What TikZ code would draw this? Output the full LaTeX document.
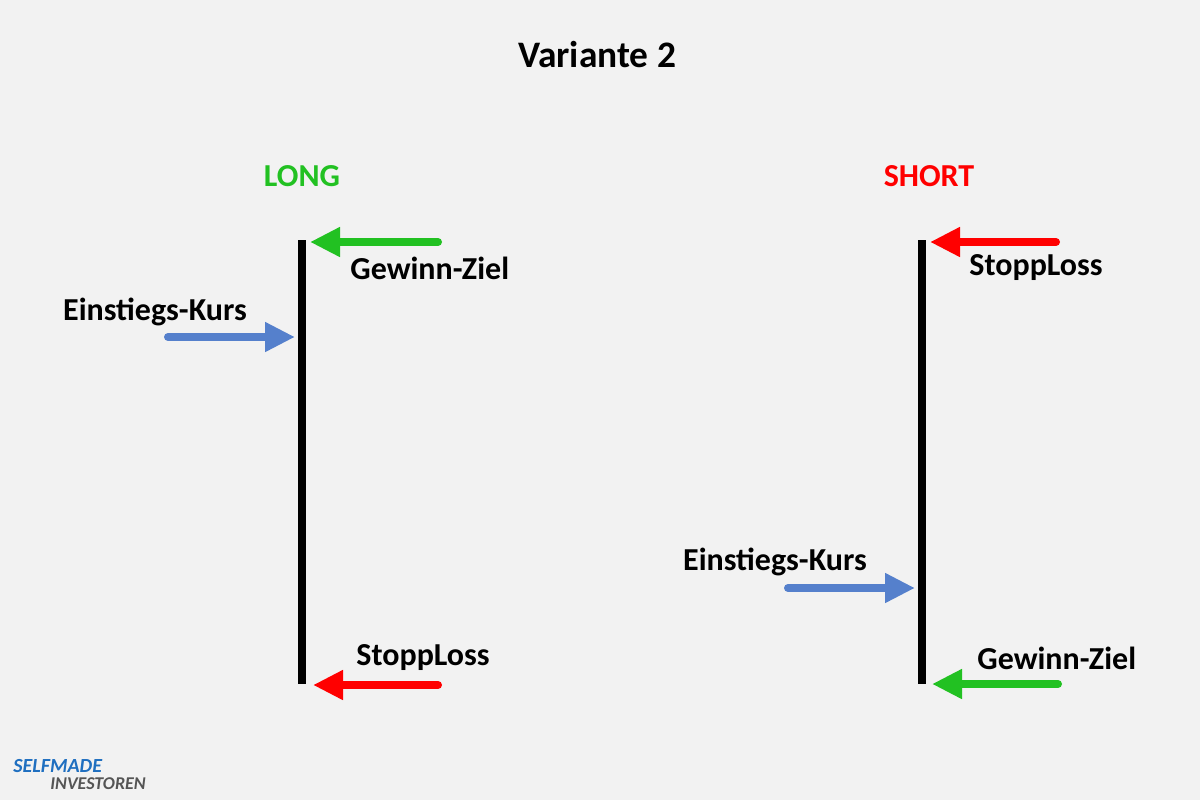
\documentclass[tikz,border=0pt]{standalone}
\usepackage{fontspec}
\setmainfont{Carlito}
\usetikzlibrary{arrows.meta}
\definecolor{bg}{HTML}{F2F2F2}
\definecolor{cgreen}{HTML}{22C122}
\definecolor{cred}{HTML}{FF0000}
\definecolor{cblue}{HTML}{5580CC}
\definecolor{logoblue}{HTML}{1F6FC0}
\definecolor{logogray}{HTML}{555555}
\tikzset{
  arr/.style={line width=4pt, line cap=round, -{Triangle[length=15pt,width=14pt,line cap=butt]}},
  bar/.style={line width=4pt},
  lab/.style={font=\bfseries\fontsize{16}{18}\selectfont, inner sep=0pt},
}
\begin{document}
\begin{tikzpicture}[x=0.5pt,y=-0.5pt]
\fill[bg] (0,0) rectangle (1200,800);
\useasboundingbox (0,0) rectangle (1200,800);
\node[font=\bfseries\fontsize{18.7}{20}\selectfont] (title) at (597,55) {Variante 2};
\node[font=\bfseries\fontsize{16}{18}\selectfont, text=cgreen] (long) at (302,176) {LONG};
\node[font=\bfseries\fontsize{16}{18}\selectfont, text=cred] (short) at (929,176) {SHORT};
% LONG
\coordinate (lt) at (302,240); \coordinate (lb) at (302,684);
\draw[bar] (lt) -- (lb);
\coordinate (g1s) at (438,242); \coordinate (g1e) at (310,242);
\draw[arr, cgreen] (g1s) -- (g1e);
\coordinate (b1s) at (168,337); \coordinate (b1e) at (295,337);
\draw[arr, cblue] (b1s) -- (b1e);
\coordinate (r1s) at (438,685); \coordinate (r1e) at (313,685);
\draw[arr, cred] (r1s) -- (r1e);
\node[lab, anchor=west] (gz1) at (350,268) {Gewinn-Ziel};
\node[lab] (ek1) at (155,312) {Einstiegs-Kurs};
\node[lab, anchor=west] (sl1) at (356,658) {StoppLoss};
% SHORT
\coordinate (rt) at (922,240); \coordinate (rb) at (922,684);
\draw[bar] (rt) -- (rb);
\coordinate (r2s) at (1056,242); \coordinate (r2e) at (930,242);
\draw[arr, cred] (r2s) -- (r2e);
\coordinate (b2s) at (788,588); \coordinate (b2e) at (915,588);
\draw[arr, cblue] (b2s) -- (b2e);
\coordinate (g2s) at (1058,684); \coordinate (g2e) at (932,684);
\draw[arr, cgreen] (g2s) -- (g2e);
\node[lab, anchor=west] (sl2) at (969,268) {StoppLoss};
\node[lab] (ek2) at (775,562) {Einstiegs-Kurs};
\node[lab, anchor=west] (gz2) at (977,658) {Gewinn-Ziel};
% logo
\node[anchor=west, inner sep=0pt, font=\bfseries\itshape\fontsize{10}{11}\selectfont, text=logoblue] (logo1) at (13,766) {SELFMADE};
\node[anchor=west, inner sep=0pt, font=\bfseries\itshape\fontsize{9}{10}\selectfont, text=logogray] (logo2) at (50,784) {INVESTOREN};
\end{tikzpicture}
\end{document}
